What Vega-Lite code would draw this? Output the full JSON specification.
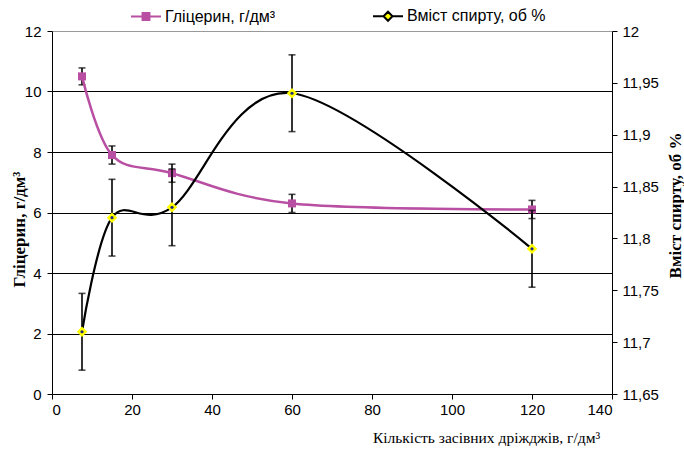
{
  "$schema": "https://vega.github.io/schema/vega-lite/v6.json",
  "width": 560,
  "height": 363,
  "autosize": {"type": "none"},
  "padding": {"left": 52, "top": 31, "right": 72, "bottom": 58},
  "background": "white",
  "config": {
    "view": {"stroke": null},
    "axis": {
      "labelFont": "Liberation Sans",
      "labelFontSize": 15,
      "labelColor": "black",
      "tickColor": "black",
      "domainColor": "black",
      "titleColor": "black",
      "tickSize": 5
    }
  },
  "datasets": {
    "gly": [
      {"series": "Гліцерин, г/дм³", "x": 7.5, "y": 10.5, "err": 0.28},
      {"series": "Гліцерин, г/дм³", "x": 15, "y": 7.9, "err": 0.3},
      {"series": "Гліцерин, г/дм³", "x": 30, "y": 7.3, "err": 0.3},
      {"series": "Гліцерин, г/дм³", "x": 60, "y": 6.3, "err": 0.3},
      {"series": "Гліцерин, г/дм³", "x": 120, "y": 6.1, "err": 0.3}
    ],
    "alc": [
      {"series": "Вміст спирту, об %", "x": 7.5, "y": 11.71, "err": 0.037},
      {"series": "Вміст спирту, об %", "x": 15, "y": 11.82, "err": 0.037},
      {"series": "Вміст спирту, об %", "x": 30, "y": 11.83, "err": 0.037},
      {"series": "Вміст спирту, об %", "x": 60, "y": 11.94, "err": 0.037},
      {"series": "Вміст спирту, об %", "x": 120, "y": 11.79, "err": 0.037}
    ]
  },
  "encoding": {
    "x": {
      "field": "x",
      "type": "quantitative",
      "scale": {"domain": [0, 140], "nice": false, "zero": false},
      "axis": {
        "values": [0, 20, 40, 60, 80, 100, 120, 140],
        "grid": false,
        "labelPadding": 3,
        "title": "Кількість засівних дріжджів, г/дм³",
        "titleFont": "Liberation Serif",
        "titleFontSize": 15.5,
        "titleFontWeight": "normal",
        "titleX": 434,
        "titleY": 48,
        "titleAlign": "center",
        "titleBaseline": "alphabetic"
      }
    }
  },
  "layer": [
    {
      "data": {"name": "gly"},
      "encoding": {
        "y": {
          "field": "y",
          "type": "quantitative",
          "scale": {"domain": [0, 12], "nice": false, "zero": false},
          "axis": {
            "orient": "left",
            "values": [0, 2, 4, 6, 8, 10, 12],
            "grid": true,
            "gridColor": {"condition": {"test": "datum.value == 12", "value": "#999999"}, "value": "#000000"},
            "gridOpacity": 1,
            "labelPadding": 6,
            "title": "Гліцерин, г/дм³",
            "titleFont": "Liberation Serif",
            "titleFontSize": 17,
            "titleFontWeight": "bold",
            "titleAngle": 270,
            "titleX": -28,
            "titleY": 198,
            "titleAlign": "center",
            "titleBaseline": "alphabetic"
          }
        }
      },
      "layer": [
        {
          "mark": {"type": "errorbar", "ticks": {"size": 7}, "color": "black", "thickness": 1.6},
          "encoding": {"yError": {"field": "err"}}
        },
        {
          "mark": {"type": "line", "interpolate": "cardinal", "tension": 0, "strokeWidth": 2.5},
          "encoding": {
            "stroke": {
              "field": "series",
              "type": "nominal",
              "scale": {"domain": ["Гліцерин, г/дм³", "Вміст спирту, об %"], "range": ["#B84FA2", "#000000"]},
              "legend": {
                "title": null,
                "orient": "none",
                "direction": "horizontal",
                "legendX": 78,
                "legendY": -31,
                "symbolSize": 900,
                "symbolStrokeWidth": 2,
                "labelFont": "Liberation Sans",
                "labelFontSize": 16,
                "labelColor": "black",
                "labelOffset": 3,
                "columnPadding": 93,
                "encode": {
                  "symbols": {
                    "update": {
                      "shape": {"signal": "datum.index === 0 ? 'M-1,0H1M-0.23,-0.23H0.23V0.23H-0.23Z' : 'M-1,0H-0.3M0.3,0H1M0,-0.3L0.3,0L0,0.3L-0.3,0Z'"},
                      "fill": {"signal": "datum.index === 0 ? '#B84FA2' : '#FFFF00'"},
                      "fillOpacity": {"value": 1},
                      "strokeWidth": {"value": 2},
                      "size": {"value": 900}
                    }
                  }
                }
              }
            }
          }
        },
        {
          "mark": {"type": "point", "shape": "square", "filled": true, "size": 64, "color": "#B84FA2", "opacity": 1}
        }
      ]
    },
    {
      "data": {"name": "alc"},
      "encoding": {
        "y": {
          "field": "y",
          "type": "quantitative",
          "scale": {"domain": [11.65, 12], "nice": false, "zero": false},
          "axis": {
            "orient": "right",
            "values": [11.65, 11.7, 11.75, 11.8, 11.85, 11.9, 11.95, 12],
            "labelExpr": "replace(format(datum.value, '.2~f'), '.', ',')",
            "grid": false,
            "labelPadding": 5,
            "title": "Вміст спирту, об %",
            "titleFont": "Liberation Serif",
            "titleFontSize": 17,
            "titleFontWeight": "bold",
            "titleAngle": 270,
            "titleX": 68,
            "titleY": 174,
            "titleAlign": "center",
            "titleBaseline": "alphabetic"
          }
        }
      },
      "layer": [
        {
          "mark": {"type": "errorbar", "ticks": {"size": 7}, "color": "black", "thickness": 1.6},
          "encoding": {"yError": {"field": "err"}}
        },
        {
          "mark": {"type": "line", "interpolate": "cardinal", "tension": 0, "strokeWidth": 2.2},
          "encoding": {
            "stroke": {"field": "series", "type": "nominal"}
          }
        },
        {
          "mark": {"type": "point", "shape": "diamond", "filled": true, "size": 110, "color": "#FFFF00", "opacity": 1}
        },
        {
          "mark": {"type": "point", "shape": "circle", "filled": true, "size": 10, "color": "#1F2A80", "opacity": 1}
        }
      ]
    }
  ],
  "resolve": {"scale": {"y": "independent"}}
}
